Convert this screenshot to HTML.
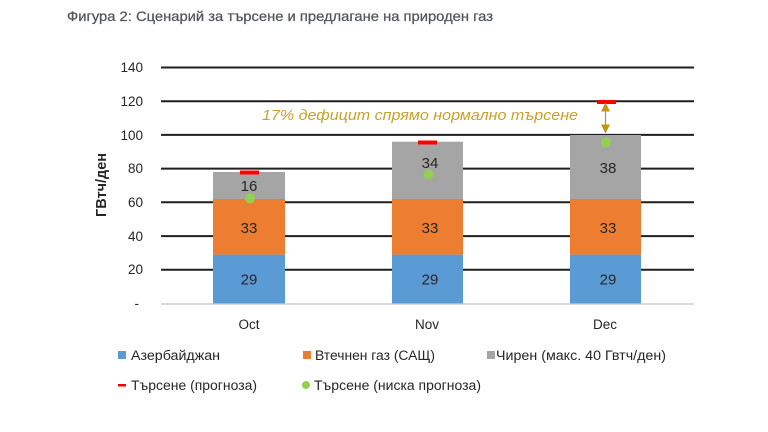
<!DOCTYPE html>
<html><head><meta charset="utf-8"><style>
html,body{margin:0;padding:0;background:#fff;}
svg{display:block;font-family:"Liberation Sans","DejaVu Sans",sans-serif;}
</style></head><body>
<svg width="768" height="432" viewBox="0 0 768 432" xmlns="http://www.w3.org/2000/svg">
<rect width="768" height="432" fill="#fff"/>
<text x="67" y="21" font-size="14" fill="#50555b" stroke="#50555b" stroke-width="0.25" textLength="426" lengthAdjust="spacingAndGlyphs">Фигура 2: Сценарий за търсене и предлагане на природен газ</text>

<!-- gridlines -->
<g stroke="#1f1f1f" stroke-width="2">
<line x1="161" y1="67.5" x2="694" y2="67.5"/>
<line x1="161" y1="101.2" x2="694" y2="101.2"/>
<line x1="161" y1="134.9" x2="694" y2="134.9"/>
<line x1="161" y1="168.6" x2="694" y2="168.6"/>
<line x1="161" y1="202.3" x2="694" y2="202.3"/>
<line x1="161" y1="236.1" x2="694" y2="236.1"/>
<line x1="161" y1="269.8" x2="694" y2="269.8"/>
</g>
<line x1="161" y1="304" x2="694" y2="304" stroke="#d9d9d9" stroke-width="2"/>

<!-- tick labels -->
<g font-size="13.5" fill="#262626" text-anchor="end">
<text x="143" y="72">140</text>
<text x="143" y="106">120</text>
<text x="143" y="140">100</text>
<text x="143" y="173">80</text>
<text x="143" y="207">60</text>
<text x="143" y="241">40</text>
<text x="143" y="274">20</text>
<text x="139" y="308">-</text>
</g>
<text transform="translate(106,185) rotate(-90)" font-size="15" font-weight="bold" fill="#262626" text-anchor="middle" textLength="64" lengthAdjust="spacingAndGlyphs">ГВтч/ден</text>

<!-- bars -->
<g>
<rect x="213" y="254.6" width="72" height="48.9" fill="#5b9bd5"/>
<rect x="213" y="199" width="72" height="55.6" fill="#ed7d31"/>
<rect x="213" y="172" width="72" height="27" fill="#a5a5a5"/>

<rect x="392" y="254.6" width="71" height="48.9" fill="#5b9bd5"/>
<rect x="392" y="199" width="71" height="55.6" fill="#ed7d31"/>
<rect x="392" y="141.7" width="71" height="57.3" fill="#a5a5a5"/>

<rect x="570" y="254.6" width="71" height="48.9" fill="#5b9bd5"/>
<rect x="570" y="199" width="71" height="55.6" fill="#ed7d31"/>
<rect x="570" y="135" width="71" height="64" fill="#a5a5a5"/>
</g>

<!-- bar labels -->
<g font-size="15" fill="#262626" text-anchor="middle">
<text x="249" y="284.5">29</text>
<text x="249" y="233">33</text>
<text x="249" y="191">16</text>
<text x="430" y="284.5">29</text>
<text x="430" y="233">33</text>
<text x="430" y="168">34</text>
<text x="608" y="284.5">29</text>
<text x="608" y="233">33</text>
<text x="608" y="173">38</text>
</g>

<!-- red markers -->
<g fill="#ff0000">
<rect x="240" y="170.5" width="19" height="4"/>
<rect x="418" y="140.5" width="19" height="4"/>
<rect x="597" y="100" width="19" height="4"/>
</g>
<!-- green dots -->
<g fill="#92d050">
<circle cx="250" cy="198.5" r="5"/>
<circle cx="428.5" cy="174.5" r="5"/>
<circle cx="606" cy="142.5" r="5"/>
</g>

<!-- annotation -->
<text x="262" y="120" font-size="15" font-style="italic" fill="#c9a129" textLength="316" lengthAdjust="spacingAndGlyphs">17% дефицит спрямо нормално търсене</text>
<line x1="605.5" y1="110" x2="605.5" y2="126" stroke="#c09418" stroke-width="1.2"/>
<polygon points="605.5,102.5 601,111.5 610,111.5" fill="#c09418"/>
<polygon points="605.5,133.5 601,124.5 610,124.5" fill="#c09418"/>

<!-- x labels -->
<g font-size="13.5" fill="#262626" text-anchor="middle">
<text x="249" y="329">Oct</text>
<text x="427" y="329">Nov</text>
<text x="605" y="329">Dec</text>
</g>

<!-- legend -->
<g font-size="13.5" fill="#262626">
<rect x="118" y="351" width="8" height="8" fill="#5b9bd5"/>
<text x="131" y="360" textLength="89" lengthAdjust="spacingAndGlyphs">Азербайджан</text>
<rect x="303" y="351" width="8" height="8" fill="#ed7d31"/>
<text x="315" y="360" textLength="120" lengthAdjust="spacingAndGlyphs">Втечнен газ (САЩ)</text>
<rect x="487" y="351" width="8" height="8" fill="#a5a5a5"/>
<text x="496" y="360" textLength="170" lengthAdjust="spacingAndGlyphs">Чирен (макс. 40 Гвтч/ден)</text>
<rect x="118" y="384" width="8" height="2.5" fill="#ff0000"/>
<text x="131" y="390" textLength="126" lengthAdjust="spacingAndGlyphs">Търсене (прогноза)</text>
<circle cx="306" cy="385" r="4" fill="#92d050"/>
<text x="314" y="390" textLength="167" lengthAdjust="spacingAndGlyphs">Търсене (ниска прогноза)</text>
</g>
</svg>
</body></html>
